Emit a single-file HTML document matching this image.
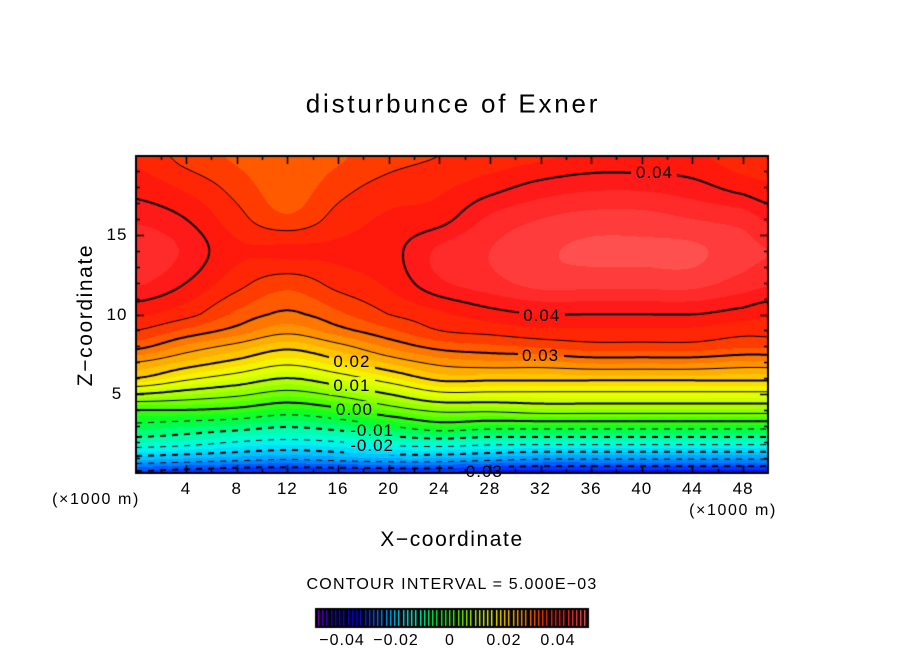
<!DOCTYPE html>
<html><head><meta charset="utf-8">
<style>
html,body{margin:0;padding:0;background:#fff;}
#root{position:relative;width:904px;height:654px;overflow:hidden;font-family:"Liberation Sans",sans-serif;color:#000;}
.t{position:absolute;white-space:nowrap;transform:translate(-50%,-50%);}
canvas{position:absolute;left:0;top:0;}
</style></head>
<body>
<div id="root">
<canvas id="cv" width="904" height="654"></canvas>
<div class="t" style="left:453px;top:104px;font-size:26px;letter-spacing:2.8px;">disturbunce of Exner</div>
<div class="t" style="left:86px;top:315px;font-size:21px;letter-spacing:1.6px;transform:translate(-50%,-50%) rotate(-90deg);">Z−coordinate</div>
<div class="t" style="left:452px;top:540px;font-size:21px;letter-spacing:1.6px;">X−coordinate</div>
<div class="t" style="left:96px;top:500px;font-size:16px;letter-spacing:1.6px;">(×1000 m)</div>
<div class="t" style="left:733px;top:511px;font-size:16px;letter-spacing:1.6px;">(×1000 m)</div>
<div class="t" style="left:452px;top:585px;font-size:16px;letter-spacing:1.2px;">CONTOUR INTERVAL = 5.000E−03</div>
<div id="labels"></div>
</div>
<script>
const xCols=[0,4,8,12,16,20,24,28,32,36,40,44,48,50];
const zRows=[0,1,2,3,4,5,6,7,8,9,10,12,14,16,18,20];
const fieldX0=[-0.031,-0.021,-0.012,-0.006,0.000,0.010,0.020,0.025,0.031,0.035,0.038,0.043,0.045,0.042,0.039,0.037];
const fieldX4=[-0.032,-0.022,-0.013,-0.007,0.000,0.008,0.016,0.022,0.027,0.032,0.036,0.040,0.042,0.040,0.037,0.034];
const fieldX8=[-0.033,-0.023,-0.015,-0.008,-0.001,0.006,0.013,0.019,0.024,0.029,0.032,0.036,0.038,0.036,0.034,0.032];
const fieldX12=[-0.033,-0.024,-0.016,-0.0095,-0.003,0.0035,0.010,0.016,0.021,0.026,0.0295,0.0335,0.038,0.033,0.031,0.030];
const fieldX16=[-0.033,-0.023,-0.015,-0.008,-0.001,0.006,0.013,0.019,0.024,0.029,0.032,0.036,0.038,0.036,0.034,0.032];
const fieldX20=[-0.033,-0.022,-0.013,-0.005,0.003,0.010,0.017,0.023,0.028,0.032,0.035,0.038,0.039,0.038,0.036,0.034];
const fieldX24=[-0.033,-0.022,-0.012,-0.002,0.006,0.014,0.021,0.026,0.031,0.035,0.037,0.042,0.043,0.039,0.037,0.035];
const fieldX28=[-0.034,-0.023,-0.013,-0.003,0.006,0.014,0.021,0.027,0.032,0.036,0.039,0.044,0.045,0.043,0.039,0.036];
const fieldX32=[-0.034,-0.024,-0.013,-0.003,0.007,0.014,0.021,0.027,0.033,0.037,0.040,0.046,0.047,0.045,0.041,0.037];
const fieldX36=[-0.034,-0.024,-0.013,-0.003,0.007,0.014,0.021,0.028,0.034,0.037,0.040,0.046,0.048,0.046,0.042,0.038];
const fieldX40=[-0.034,-0.024,-0.013,-0.003,0.007,0.014,0.021,0.028,0.034,0.037,0.040,0.046,0.048,0.046,0.042,0.038];
const fieldX44=[-0.034,-0.024,-0.013,-0.003,0.007,0.014,0.021,0.028,0.034,0.037,0.040,0.046,0.048,0.045,0.041,0.038];
const fieldX48=[-0.034,-0.024,-0.013,-0.003,0.007,0.014,0.021,0.027,0.033,0.036,0.039,0.044,0.046,0.044,0.039,0.036];
const fieldX50=[-0.034,-0.024,-0.013,-0.003,0.007,0.014,0.021,0.027,0.033,0.036,0.038,0.043,0.045,0.042,0.038,0.036];
const field=[fieldX0,fieldX4,fieldX8,fieldX12,fieldX16,fieldX20,fieldX24,fieldX28,fieldX32,fieldX36,fieldX40,fieldX44,fieldX48,fieldX50];
const contourLevels=[-0.03,-0.025,-0.02,-0.015,-0.01,-0.005,0,0.005,0.01,0.015,0.02,0.025,0.03,0.035,0.04];
const contourLabels=["0.04","0.04","0.03","0.02","0.01","0.00","-0.01","-0.02","-0.03"];
const contourLabelX=[41.0,32.1,32.0,17.1,17.1,17.3,18.7,18.7,27.3];
const contourLabelZ=[18.9,9.9,7.4,7.0,5.5,4.0,2.7,1.7,0.1];
const xTicks=[4,8,12,16,20,24,28,32,36,40,44,48];
const yTicks=[5,10,15];
const cbTicks=[-0.04,-0.02,0,0.02,0.04];
const cbTickLabels=["−0.04","−0.02","0","0.02","0.04"];

const X0=135.4,XS=12.66,Z0=473.5,ZS=15.9;
const PL=136,PT=156,PR=768,PB=473;
function sx(x){return X0+x*XS;}
function sy(z){return Z0-z*ZS;}
const stops=[[-0.05,[128,0,192]],[-0.045,[32,0,208]],[-0.035,[0,0,240]],[-0.03,[0,70,255]],[-0.025,[0,150,255]],[-0.02,[0,210,255]],[-0.015,[0,255,230]],[-0.01,[0,255,150]],[-0.005,[0,255,50]],[0,[60,255,0]],[0.005,[128,255,0]],[0.01,[192,255,0]],[0.015,[240,255,0]],[0.02,[255,210,0]],[0.025,[255,160,0]],[0.03,[255,105,0]],[0.035,[255,45,0]],[0.04,[255,18,18]],[0.045,[255,50,50]],[0.05,[255,90,90]]];
function cmap(v){
  if(v<=stops[0][0])return stops[0][1];
  for(let i=1;i<stops.length;i++){if(v<=stops[i][0]){const a=stops[i-1],b=stops[i];const t=(v-a[0])/(b[0]-a[0]);return a[1].map((c,k)=>Math.round(c+(b[1][k]-c)*t));}}
  return stops[stops.length-1][1];
}
function idx(arr,v){for(let i=0;i<arr.length-1;i++){if(v<=arr[i+1])return i;}return arr.length-2;}
function cr(arr,i,t){
  const n=arr.length;const p0=arr[Math.max(0,i-1)],p1=arr[i],p2=arr[Math.min(n-1,i+1)],p3=arr[Math.min(n-1,i+2)];
  return 0.5*((2*p1)+(-p0+p2)*t+(2*p0-5*p1+4*p2-p3)*t*t+(-p0+3*p1-3*p2+p3)*t*t*t);
}
function val(x,z){
  x=Math.max(0,Math.min(50,x));z=Math.max(0,Math.min(20,z));
  const i=idx(xCols,x),j=idx(zRows,z);
  const tx=(x-xCols[i])/(xCols[i+1]-xCols[i]),tz=(z-zRows[j])/(zRows[j+1]-zRows[j]);
  const col=field.map(c=>cr(c,j,tz));
  return cr(col,i,tx);
}
const cv=document.getElementById('cv');const ctx=cv.getContext('2d');
const W=PR-PL,H=PB-PT;const img=ctx.createImageData(W,H);
for(let py=0;py<H;py++){for(let px=0;px<W;px++){
  const x=(PL+px+0.5-X0)/XS,z=(Z0-(PT+py+0.5))/ZS;
  let v=val(x,z);v=Math.floor(v/0.0025)*0.0025+0.00125;
  const c=cmap(v);const o=(py*W+px)*4;img.data[o]=c[0];img.data[o+1]=c[1];img.data[o+2]=c[2];img.data[o+3]=255;}}
ctx.putImageData(img,PL,PT);
const st=2,nx=Math.ceil(W/st)+1,ny=Math.ceil(H/st)+1;const g=[];
for(let j=0;j<ny;j++){g[j]=[];for(let i=0;i<nx;i++){g[j][i]=val((PL+i*st-X0)/XS,(Z0-(PT+j*st))/ZS);}}
ctx.save();ctx.beginPath();ctx.rect(PL,PT,W,H);ctx.clip();ctx.strokeStyle='#000';
contourLevels.forEach(L=>{
  const major=Math.abs(Math.round(L*100)-L*100)<1e-6;
  ctx.lineWidth=major?2:1;ctx.beginPath();
  for(let j=0;j<ny-1;j++)for(let i=0;i<nx-1;i++){
    if(L<0&&Math.floor(i/3)%2===1)continue;
    const a=g[j][i],b=g[j][i+1],c=g[j+1][i+1],d=g[j+1][i];
    const pts=[];const x0=PL+i*st,y0=PT+j*st;
    function e(v1,v2,p1,p2){if((v1-L)*(v2-L)<0){const t=(L-v1)/(v2-v1);pts.push([p1[0]+(p2[0]-p1[0])*t,p1[1]+(p2[1]-p1[1])*t]);}}
    e(a,b,[x0,y0],[x0+st,y0]);e(b,c,[x0+st,y0],[x0+st,y0+st]);e(c,d,[x0+st,y0+st],[x0,y0+st]);e(d,a,[x0,y0+st],[x0,y0]);
    for(let k=0;k+1<pts.length;k+=2){ctx.moveTo(pts[k][0],pts[k][1]);ctx.lineTo(pts[k+1][0],pts[k+1][1]);}
  }
  ctx.stroke();
});
ctx.restore();
contourLabels.forEach((t,i)=>{
  const w=t.length*10+6;const cx=sx(contourLabelX[i])-PL,cy=sy(contourLabelZ[i])-PT;
  const dx=Math.max(0,Math.round(cx-w/2)),dy=Math.max(0,Math.round(cy-9));
  ctx.putImageData(img,PL,PT,dx,dy,Math.min(W-dx,w),Math.min(H-dy,18));
});
ctx.strokeStyle='#000';ctx.lineWidth=2;ctx.strokeRect(PL,PT,W,H);ctx.lineWidth=1.5;ctx.beginPath();
for(let x=2;x<50;x+=2){const len=(x%4===0)?8:4;const p=Math.round(sx(x))+0.5;ctx.moveTo(p,PB);ctx.lineTo(p,PB-len);ctx.moveTo(p,PT);ctx.lineTo(p,PT+len);}
for(let z=1;z<20;z++){const len=(z%5===0)?8:4;const p=Math.round(sy(z))+0.5;ctx.moveTo(PL,p);ctx.lineTo(PL+len,p);ctx.moveTo(PR,p);ctx.lineTo(PR-len,p);}
ctx.stroke();
ctx.fillStyle='#000';ctx.fillRect(315,608,274,20);
for(let k=0;k<64;k++){const v=-0.0495+k*0.0992/63;const c=cmap(v);ctx.fillStyle='rgb('+c.join(',')+')';ctx.fillRect(Math.round(318+k*4.23),610,1.4,16);}
const lab=document.getElementById('labels');
function addText(txt,x,y,size,name){
  const d=document.createElement('div');d.className='t';d.textContent=txt;
  d.style.left=x+'px';d.style.top=y+'px';d.style.fontSize=size+'px';d.style.letterSpacing='1px';
  
  
  lab.appendChild(d);
}
xTicks.forEach(t=>addText(String(t),sx(t),489,17,'x-tick-label'));
yTicks.forEach(t=>addText(String(t),117,sy(t),17,'y-tick-label'));
cbTicks.forEach((t,i)=>addText(cbTickLabels[i],450+t*2700,641,16,'colorbar-tick-label'));
contourLabels.forEach((t,i)=>addText(t,sx(contourLabelX[i]),sy(contourLabelZ[i]),17,'contour-label'));
</script>
</body></html>
